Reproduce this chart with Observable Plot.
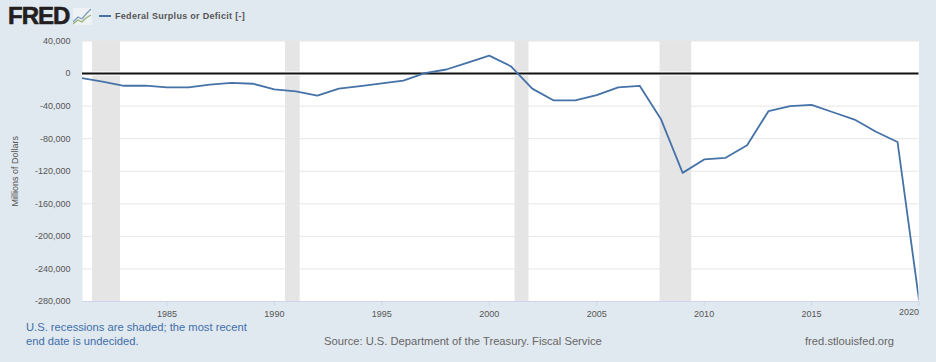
<!DOCTYPE html>
<html>
<head>
<meta charset="utf-8">
<script src="https://cdn.jsdelivr.net/npm/d3@7"></script>
<script src="https://cdn.jsdelivr.net/npm/@observablehq/plot@0.6"></script>
<style>
  html, body { margin: 0; padding: 0; background: #e1e9f0; width: 936px; height: 362px; overflow: hidden; font-family: "Liberation Sans", Arial, sans-serif; }
  #head { position: relative; height: 32px; }
  #logo { position: absolute; left: 8px; top: 2px; font: 900 24px "Liberation Sans", Arial, sans-serif; color: #231f20; letter-spacing: -1px; -webkit-text-stroke: 0.6px #231f20; }
  #icon { position: absolute; left: 73px; top: 8px; }
  #swatch { position: absolute; left: 99px; top: 15px; width: 12px; height: 2px; background: #4572a7; }
  #legend { position: absolute; left: 115px; top: 11px; font: bold 9px "Liberation Sans", Arial, sans-serif; color: #555; letter-spacing: .3px; white-space: nowrap; }
  #foot { position: relative; height: 42px; }
  #foot div { position: absolute; white-space: nowrap; font-size: 11.2px; line-height: 14px; }
  #rec { left: 26px; top: 0px; color: #3e6ea8; }
  #src { left: 324px; top: 14px; color: #666; }
  #url { left: 805px; top: 14px; color: #666; }
  svg.chart { display: block; }
</style>
</head>
<body>
<div id="head">
  <div id="logo">FRED</div>
  <svg id="icon" width="19" height="17" viewBox="0 0 19 17">
    <rect width="19" height="17" fill="#eef2f5"/>
    <path d="M0 14 L5 9 L9 11 L13 6 L18 1" fill="none" stroke="#7d9cbd" stroke-width="1.3"/>
    <path d="M0 16 L5 12 L9 14 L13 10 L18 7" fill="none" stroke="#9cb07a" stroke-width="1.3"/>
  </svg>
  <div id="swatch"></div>
  <div id="legend">Federal Surplus or Deficit [-]</div>
</div>
<div id="plot"></div>
<div id="foot">
  <div id="rec">U.S. recessions are shaded; the most recent<br>end date is undecided.</div>
  <div id="src">Source: U.S. Department of the Treasury. Fiscal Service</div>
  <div id="url">fred.stlouisfed.org</div>
</div>
<script>
const years = [1981,1982,1983,1984,1985,1986,1987,1988,1989,1990,1991,1992,1993,1994,1995,1996,1997,1998,1999,2000,2001,2002,2003,2004,2005,2006,2007,2008,2009,2010,2011,2012,2013,2014,2015,2016,2017,2018,2019,2020];
const deficit = [-5500,-10000,-15000,-14700,-17000,-17000,-13500,-11500,-12500,-19500,-22000,-27000,-18500,-15500,-12000,-8700,500,5000,13500,22000,9000,-18500,-33000,-33000,-26500,-17000,-15000,-56500,-122000,-105500,-103500,-88000,-46000,-40000,-38500,-47500,-56500,-71500,-84000,-278000];
const recessionStart = [1981.54,1990.52,2001.2,2007.95];
const recessionEnd = [1982.84,1991.2,2001.85,2009.42];
const yTicks = [40000,0,-40000,-80000,-120000,-160000,-200000,-240000,-280000];
const xTicks = [1985,1990,1995,2000,2005,2010,2015,2020];

const series = years.map((y,i) => ({year:y, value:deficit[i]}));
const recessions = recessionStart.map((s,i) => ({start:s, end:recessionEnd[i]}));
const fmt = d => d.toLocaleString("en-US");

const chart = Plot.plot({
  width: 936, height: 288,
  marginLeft: 82, marginRight: 17.5, marginTop: 8.5, marginBottom: 19,
  style: {background: "transparent", fontFamily: "Liberation Sans, Arial, sans-serif", fontSize: "9px", color: "#555"},
  x: {domain: [1981.07, 2020], label: null},
  y: {domain: [-280000, 40000], label: null},
  marks: [
    Plot.frame({fill: "white", stroke: null}),
    Plot.ruleY(yTicks, {stroke: "#e6e6e6", strokeWidth: 1}),
    Plot.rectX(recessions, {x1: "start", x2: "end", fill: "#e5e5e5"}),
    Plot.ruleY([0], {stroke: "white", strokeWidth: 4}),
    Plot.ruleY([0], {stroke: "#111", strokeWidth: 2}),
    Plot.ruleY([-280000], {stroke: "#ccd6eb", strokeWidth: 1}),
    Plot.line(series, {x: "year", y: "value", stroke: "#4572a7", strokeWidth: 1.8, clip: true, curve: "linear"}),
    Plot.axisY({ticks: yTicks, tickSize: 0, tickPadding: 12, tickFormat: fmt, fontSize: 9, fill: "#555", label: null}),
    Plot.axisX({ticks: xTicks, tickSize: 5, stroke: "#ccd6eb", tickPadding: 4.5, tickFormat: d => d === 2020 ? "" : String(d), fontSize: 9, fill: "#555", label: null}),
    Plot.text([2020], {x: d => d, frameAnchor: "bottom", dy: 13.5, text: d => String(d), textAnchor: "end", fontSize: 9, fill: "#555"}),
    Plot.text(["Millions of Dollars"], {frameAnchor: "left", dx: -67, rotate: -90, textAnchor: "middle", text: d => d, fontSize: 9, fill: "#555"})
  ]
});
chart.classList.add("chart");
document.getElementById("plot").appendChild(chart);
</script>
</body>
</html>
